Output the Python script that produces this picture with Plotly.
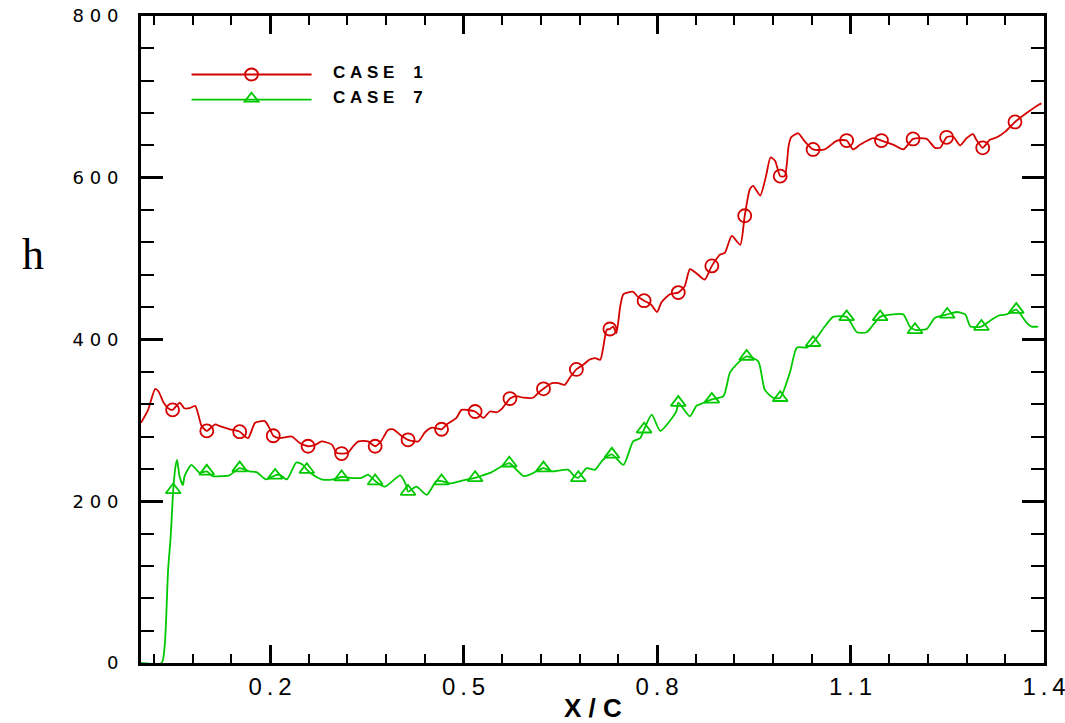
import plotly.graph_objects as go

# ---- CASE 1 heat-transfer distribution h(x/c) ----
case1_x = [0.000, 0.011, 0.022, 0.027, 0.035, 0.042, 0.049, 0.055, 0.060, 0.067, 0.075,
           0.084, 0.094, 0.102, 0.115, 0.122, 0.138, 0.153, 0.166, 0.177, 0.192, 0.200,
           0.205, 0.215, 0.234, 0.246, 0.259, 0.271, 0.280, 0.296, 0.303, 0.311, 0.321,
           0.329, 0.337, 0.352, 0.363, 0.372, 0.383, 0.391, 0.402, 0.414, 0.430, 0.440,
           0.451, 0.466, 0.474, 0.489, 0.497, 0.518, 0.531, 0.541, 0.551, 0.559, 0.572,
           0.582, 0.593, 0.608, 0.616, 0.624, 0.637, 0.647, 0.657, 0.665, 0.675, 0.686,
           0.695, 0.704, 0.712, 0.717, 0.722, 0.727, 0.732, 0.737, 0.743, 0.748, 0.763,
           0.770, 0.780, 0.791, 0.800, 0.807, 0.820, 0.833, 0.843, 0.851, 0.861, 0.874,
           0.885, 0.898, 0.905, 0.916, 0.929, 0.936, 0.944, 0.949, 0.960, 0.969, 0.976,
           0.983, 0.991, 0.998, 1.004, 1.008, 1.019, 1.029, 1.042, 1.060, 1.079, 1.094,
           1.104, 1.115, 1.135, 1.148, 1.166, 1.182, 1.197, 1.218, 1.231, 1.239, 1.249,
           1.259, 1.270, 1.280, 1.290, 1.295, 1.305, 1.316, 1.327, 1.340, 1.355, 1.373,
           1.391, 1.396]
case1_h = [297, 313, 339, 336, 322, 315, 313, 318, 322, 315, 315,
           318, 293, 287, 295, 293, 289, 286, 278, 297, 299, 289,
           281, 278, 280, 272, 268, 270, 274, 270, 260, 259, 260,
           268, 274, 274, 268, 274, 288, 289, 282, 276, 274, 285,
           291, 289, 295, 303, 313, 311, 303, 311, 310, 314, 327,
           330, 328, 328, 334, 339, 346, 346, 344, 353, 363, 369,
           375, 377, 375, 392, 412, 413, 416, 408, 441, 456, 459,
           453, 448, 443, 434, 446, 456, 458, 466, 487, 482, 474,
           491, 505, 507, 528, 517, 553, 586, 590, 578, 602, 625,
           621, 602, 602, 639, 650, 655, 645, 635, 635, 646, 646,
           635, 641, 649, 646, 641, 635, 648, 648, 637, 637, 650,
           651, 640, 649, 654, 647, 637, 647, 650, 657, 669, 680,
           690, 692]
case1_sym_x = [0.049, 0.102, 0.153, 0.205, 0.259, 0.311, 0.363, 0.414, 0.466, 0.518,
               0.572, 0.624, 0.675, 0.727, 0.780, 0.833, 0.885, 0.936, 0.991, 1.042,
               1.094, 1.148, 1.197, 1.249, 1.305, 1.355]
case1_sym_h = [313, 287, 286, 281, 268, 259, 268, 276, 289, 311,
               327, 339, 363, 413, 448, 458, 491, 553, 602, 635,
               646, 646, 648, 650, 637, 669]

# ---- CASE 7 heat-transfer distribution h(x/c) ----
case7_x = [0.000, 0.032, 0.037, 0.042, 0.046, 0.050, 0.0535, 0.056, 0.0597, 0.065, 0.0675,
           0.078, 0.086, 0.091, 0.102, 0.111, 0.125, 0.137, 0.153, 0.168, 0.179, 0.194,
           0.208, 0.215, 0.226, 0.241, 0.251, 0.257, 0.266, 0.280, 0.298, 0.311, 0.324,
           0.342, 0.352, 0.363, 0.378, 0.402, 0.411, 0.414, 0.427, 0.443, 0.458, 0.466,
           0.479, 0.495, 0.518, 0.526, 0.541, 0.571, 0.582, 0.593, 0.603, 0.624, 0.637,
           0.662, 0.672, 0.678, 0.691, 0.704, 0.716, 0.730, 0.748, 0.763, 0.774, 0.780,
           0.792, 0.805, 0.830, 0.833, 0.851, 0.861, 0.867, 0.885, 0.903, 0.913, 0.923,
           0.939, 0.957, 0.967, 0.980, 0.991, 1.006, 1.017, 1.032, 1.042, 1.060, 1.073,
           1.094, 1.110, 1.125, 1.135, 1.146, 1.166, 1.182, 1.192, 1.200, 1.218, 1.231,
           1.250, 1.265, 1.278, 1.286, 1.303, 1.316, 1.331, 1.342, 1.357, 1.373, 1.381,
           1.391]
case7_h = [0, 0, 24, 115, 156, 214, 243, 251, 231, 220, 231,
           245, 239, 235, 237, 231, 231, 232, 241, 237, 236, 227,
           232, 233, 227, 248, 245, 239, 233, 227, 227, 230, 229,
           229, 233, 225, 218, 232, 220, 212, 218, 208, 225, 225,
           222, 225, 229, 231, 235, 247, 239, 231, 233, 241, 237,
           239, 231, 229, 241, 239, 251, 258, 245, 274, 278, 289,
           307, 287, 311, 322, 305, 318, 320, 326, 330, 359, 369,
           379, 373, 338, 328, 328, 359, 390, 390, 396, 416, 428,
           428, 409, 409, 418, 428, 431, 431, 416, 412, 413, 427,
           431, 434, 431, 416, 416, 423, 430, 431, 437, 421, 416,
           416]
case7_sym_x = [0.050, 0.102, 0.153, 0.208, 0.257, 0.311, 0.363, 0.414, 0.466, 0.518,
               0.571, 0.624, 0.678, 0.730, 0.780, 0.833, 0.885, 0.939, 0.991, 1.042,
               1.094, 1.146, 1.200, 1.250, 1.303, 1.357]
case7_sym_h = [214, 237, 241, 232, 239, 230, 225, 212, 225, 229,
               247, 241, 229, 258, 289, 322, 326, 379, 328, 396,
               428, 428, 412, 431, 416, 437]

# ---- axis ticks and labels ----
x_tick_vals = [0.2, 0.5, 0.8, 1.1, 1.4]
x_tick_text = ["0\u2009.\u20092", "0\u2009.\u20095", "0\u2009.\u20098",
               "1\u2009.\u20091", "1\u2009.\u20094"]
y_tick_vals = [0, 200, 400, 600, 800]
y_tick_text = ["0", "2\u00a00\u00a00", "4\u00a00\u00a00", "6\u00a00\u00a00", "8\u00a00\u00a00"]

series_names = ["C\u00a0A\u00a0S\u00a0E\u00a0\u00a0\u00a0\u00a01",
                "C\u00a0A\u00a0S\u00a0E\u00a0\u00a0\u00a0\u00a07"]
series_colors = ["#d40000", "#00c800"]
series_symbols = ["circle-open", "triangle-up-open"]

fig = go.Figure()

curves = [(case1_x, case1_h, case1_sym_x, case1_sym_h),
          (case7_x, case7_h, case7_sym_x, case7_sym_h)]
for (cx, ch, sx, sh), col, sym in zip(curves, series_colors, series_symbols):
    fig.add_trace(go.Scatter(x=cx, y=ch, mode="lines",
                             line=dict(color=col, width=1.8, shape="spline", smoothing=0.6),
                             showlegend=False, hoverinfo="skip"))
    fig.add_trace(go.Scatter(x=sx, y=sh, mode="markers",
                             marker=dict(symbol=sym, size=13, color=col,
                                         line=dict(color=col, width=1.8)),
                             showlegend=False, hoverinfo="skip"))

# hand-built legend box in the upper left of the frame
legend_rows_y = [0.9096, 0.8707]
legend_line_x = (0.056, 0.1889)
legend_sym_x = 0.1224
shapes = []
annotations = []
for i, (name, col, yy) in enumerate(zip(series_names, series_colors, legend_rows_y)):
    shapes.append(dict(type="line", xref="paper", yref="paper",
                       x0=legend_line_x[0], x1=legend_line_x[1], y0=yy, y1=yy,
                       line=dict(color=col, width=1.8)))
    if i == 0:
        shapes.append(dict(type="circle", xref="paper", yref="paper",
                           xsizemode="pixel", ysizemode="pixel",
                           xanchor=legend_sym_x, yanchor=yy,
                           x0=-6.5, x1=6.5, y0=-6, y1=6,
                           line=dict(color=col, width=1.8)))
    else:
        shapes.append(dict(type="path", xref="paper", yref="paper",
                           xsizemode="pixel", ysizemode="pixel",
                           xanchor=legend_sym_x, yanchor=yy,
                           path="M-7,-2 L7,-2 L0,7 Z",
                           line=dict(color=col, width=1.8)))
    annotations.append(dict(text=name, xref="paper", yref="paper",
                            x=0.2105, y=yy, xanchor="left", yanchor="middle",
                            yshift=2, showarrow=False,
                            font=dict(family="Liberation Sans, Arial", size=17,
                                      color="black", weight="bold")))

# axis titles
annotations.append(dict(text="X\u00a0/\u00a0C", xref="paper", yref="paper",
                        x=0.5, y=0, xanchor="center", yanchor="middle",
                        yshift=-45, showarrow=False,
                        font=dict(family="Liberation Sans, Arial", size=26,
                                  color="black", weight="bold")))
annotations.append(dict(text="h", xref="paper", yref="paper",
                        x=-0.1196, y=0.632, xanchor="center", yanchor="middle",
                        showarrow=False,
                        font=dict(family="Liberation Serif, Times New Roman", size=44,
                                  color="black")))

fig.update_layout(
    width=1065, height=723,
    margin=dict(l=141, r=21, t=16, b=60, autoexpand=False),
    paper_bgcolor="white", plot_bgcolor="white",
    showlegend=False,
    shapes=shapes,
    annotations=annotations,
)

fig.update_xaxes(
    range=[0, 1.4], tickmode="array", tickvals=x_tick_vals, ticktext=x_tick_text,
    ticks="inside", ticklen=18, tickwidth=3, tickcolor="black",
    minor=dict(ticks="inside", ticklen=9, tickwidth=2, tickcolor="black",
               tick0=0.2, dtick=0.06, showgrid=False),
    showline=True, linewidth=3, linecolor="black", mirror="allticks",
    showgrid=False, zeroline=False, automargin=False,
    tickfont=dict(family="Liberation Sans, Arial", size=24, color="black"),
    ticklabelstandoff=0, ticklabeloverflow="allow",
)
fig.update_yaxes(
    range=[0, 800], tickmode="array", tickvals=y_tick_vals, ticktext=y_tick_text,
    ticks="inside", ticklen=22, tickwidth=3, tickcolor="black",
    minor=dict(ticks="inside", ticklen=13, tickwidth=2, tickcolor="black",
               tick0=0, dtick=40, showgrid=False),
    showline=True, linewidth=3, linecolor="black", mirror="allticks",
    showgrid=False, zeroline=False, automargin=False,
    tickfont=dict(family="DejaVu Sans", size=18, color="black"),
    ticklabelstandoff=16, ticklabeloverflow="allow",
)

fig.write_html("out.html")
